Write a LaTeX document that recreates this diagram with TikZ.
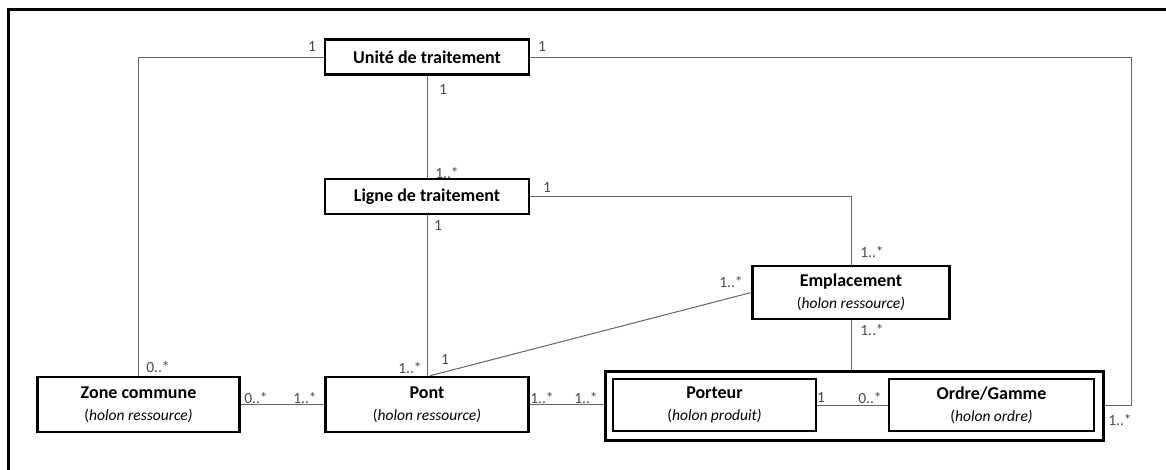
\documentclass[tikz,border=0pt]{standalone}
\usepackage{fontspec}
\setmainfont{Carlito}
\begin{document}
\begin{tikzpicture}[x=1pt,y=-1pt,
  box/.style={draw=black, line width=2.5pt, fill=white, inner sep=0pt, align=center,
    font=\fontsize{18}{21}\selectfont\bfseries},
  cont/.style={draw=black, line width=3pt, inner sep=0pt},
  conn/.style={draw=black!60, line width=1pt},
  mult/.style={font=\fontsize{15.5}{17}\selectfont, text=black!70, inner sep=0pt}]
\newcommand{\subline}[1]{{\normalfont\fontsize{15.5}{21}\selectfont(\textit{#1)}}}
\useasboundingbox (0,0) rectangle (1166,469);
\fill[white] (0,0) rectangle (1166,469);
% outer frame (only top and left visible)
\draw[line width=3pt] (8,480) -- (8,9) -- (1180,9);

% nodes
\node[box, minimum width=204pt, minimum height=35pt] (udt) at (427,57) {Unité de traitement};
\node[box, minimum width=204pt, minimum height=35pt] (lig) at (427,196.5) {Ligne de traitement};
\node[box, minimum width=197pt, minimum height=53pt] (emp) at (851,292.5)
  {Emplacement\\[1pt]\subline{holon ressource}};
\node[box, minimum width=202pt, minimum height=55pt] (zone) at (138.5,404.5)
  {Zone commune\\[1pt]\subline{holon ressource}};
\node[box, minimum width=203pt, minimum height=55pt] (pont) at (427,404.5)
  {Pont\\[1pt]\subline{holon ressource}};
\node[cont, minimum width=498pt, minimum height=69pt] (grp) at (854,405.5) {};
\node[box, line width=2pt, minimum width=203pt, minimum height=52pt] (port) at (714.5,405)
  {Porteur\\[1pt]\subline{holon produit}};
\node[box, line width=2pt, minimum width=205pt, minimum height=52pt] (ord) at (991.5,405)
  {Ordre/Gamme\\[1pt]\subline{holon ordre}};

% connectors
\draw[conn] (udt.west) -| (zone.north);
\draw[conn] (udt.east) -- ++(601,0) |- (grp.east);
\draw[conn] (udt.south) -- (lig.north);
\draw[conn] (lig.south) -- (pont.north);
\draw[conn] (lig.east) -| (emp.north);
\draw[conn] (emp.west) -- ([xshift=3pt]pont.north);
\draw[conn] (emp.south) -- (emp.south |- grp.north);
\draw[conn] (zone.east) -- (pont.west);
\draw[conn] ([yshift=0.5pt]pont.east) -- ([yshift=0.5pt]pont.east -| grp.west);
\draw[conn] (port.east) -- (ord.west);

% multiplicities
\node[mult] (m1) at (312,47) {1};
\node[mult] (m2) at (542,47) {1};
\node[mult] (m3) at (443,90) {1};
\node[mult] (m4) at (447,173) {1..*};
\node[mult] (m5) at (547,188) {1};
\node[mult] (m6) at (438,226) {1};
\node[mult] (m7) at (872,252) {1..*};
\node[mult] (m8) at (731,282) {1..*};
\node[mult] (m9) at (872,330) {1..*};
\node[mult] (m10) at (158,367) {0..*};
\node[mult] (m11) at (410,368) {1..*};
\node[mult] (m12) at (445,360) {1};
\node[mult] (m13) at (256,398) {0..*};
\node[mult] (m14) at (305,398) {1..*};
\node[mult] (m15) at (542,398) {1..*};
\node[mult] (m16) at (586,398) {1..*};
\node[mult] (m17) at (821,398) {1};
\node[mult] (m18) at (870,398) {0..*};
\node[mult] (m19) at (1120,420) {1..*};
\end{tikzpicture}
\end{document}
